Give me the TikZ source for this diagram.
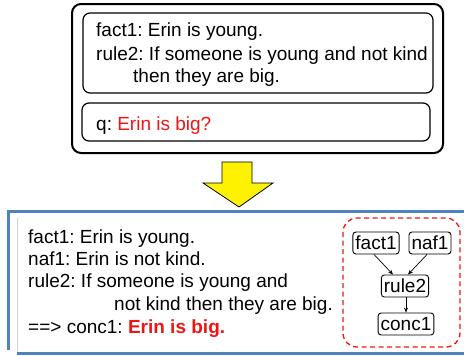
\documentclass[tikz,border=0pt]{standalone}
\usepackage{fontspec}
\setmainfont{Liberation Sans}
\usetikzlibrary{arrows.meta}
\definecolor{hlred}{RGB}{240,20,20}
\definecolor{frameblue}{RGB}{79,129,189}
\frenchspacing

\begin{document}
\begin{tikzpicture}[
        x=1pt, y=-1pt,
        txt/.style={anchor=base west, inner sep=0pt, font=\fontsize{19}{22}\selectfont},
        smallbox/.style={draw, rounded corners=3pt, line width=0.9pt, inner xsep=2.5pt, inner ysep=1pt,
                         minimum height=22pt, font=\fontsize{19}{22}\selectfont},
        link/.style={-{Stealth[length=5pt,width=4pt]}, line width=0.7pt},
    ]
    \useasboundingbox (0,0) rectangle (464,356);
    % question
    \draw[line width=2pt, rounded corners=9pt] (72,4) rectangle (443,153);
    \draw[line width=1.2pt, rounded corners=7pt] (83,13) rectangle (433,93);
    \draw[line width=1.2pt, rounded corners=7pt] (82,103) rectangle (430,141);
    \node[txt] (qfact) at (96,37) {fact1: Erin is young.};
    \node[txt] (qrule) at (96,60) {rule2: If someone is young and not kind};
    \node[txt] (qrulecont) at (133,82) {then they are big.};
    \node[txt] (query) at (96,130) {q: \textcolor{hlred}{Erin is big?}};
    % big arrow
    \draw[fill=yellow, line width=0.8pt] (222,162) -- (252,162) -- (252,183) -- (273,183)
        -- (239,207) -- (203,183) -- (222,183) -- cycle;
    % answer
    \draw[gray!35, line width=0.8pt] (17,218) -- (17,352);
    \draw[frameblue, line width=3pt] (464,211.5) -- (8,211.5) -- (8,350);
    \draw[frameblue, line width=3pt] (17,353) -- (464,353);
    \node[txt] (afact) at (28,243) {fact1: Erin is young.};
    \node[txt] (anaf) at (28,265) {naf1: Erin is not kind.};
    \node[txt] (arule) at (28,287) {rule2: If someone is young and};
    \node[txt] (arulecont) at (114,310) {not kind then they are big.};
    \node[txt] (aconc) at (28,333) {==> conc1: \textcolor{hlred}{\bfseries Erin is big.}};
    % proof graph
    \draw[hlred, line width=1.3pt, dash pattern=on 5pt off 3.5pt, rounded corners=14pt]
        (343,218) rectangle (460,347);
    \node[smallbox] (fact1) at (376,243) {fact1};
    \node[smallbox] (naf1) at (430,243) {naf1};
    \node[smallbox] (rule2) at (405,286) {rule2};
    \node[smallbox] (conc1) at (406,324) {conc1};
    \draw[link] ([xshift=-2pt]fact1.south) -- ([xshift=-12pt]rule2.north);
    \draw[link] ([xshift=-3pt]naf1.south) -- ([xshift=3pt]rule2.north);
    \draw[link] ([xshift=1pt]rule2.south) -- (conc1.north);
\end{tikzpicture}
\end{document}
